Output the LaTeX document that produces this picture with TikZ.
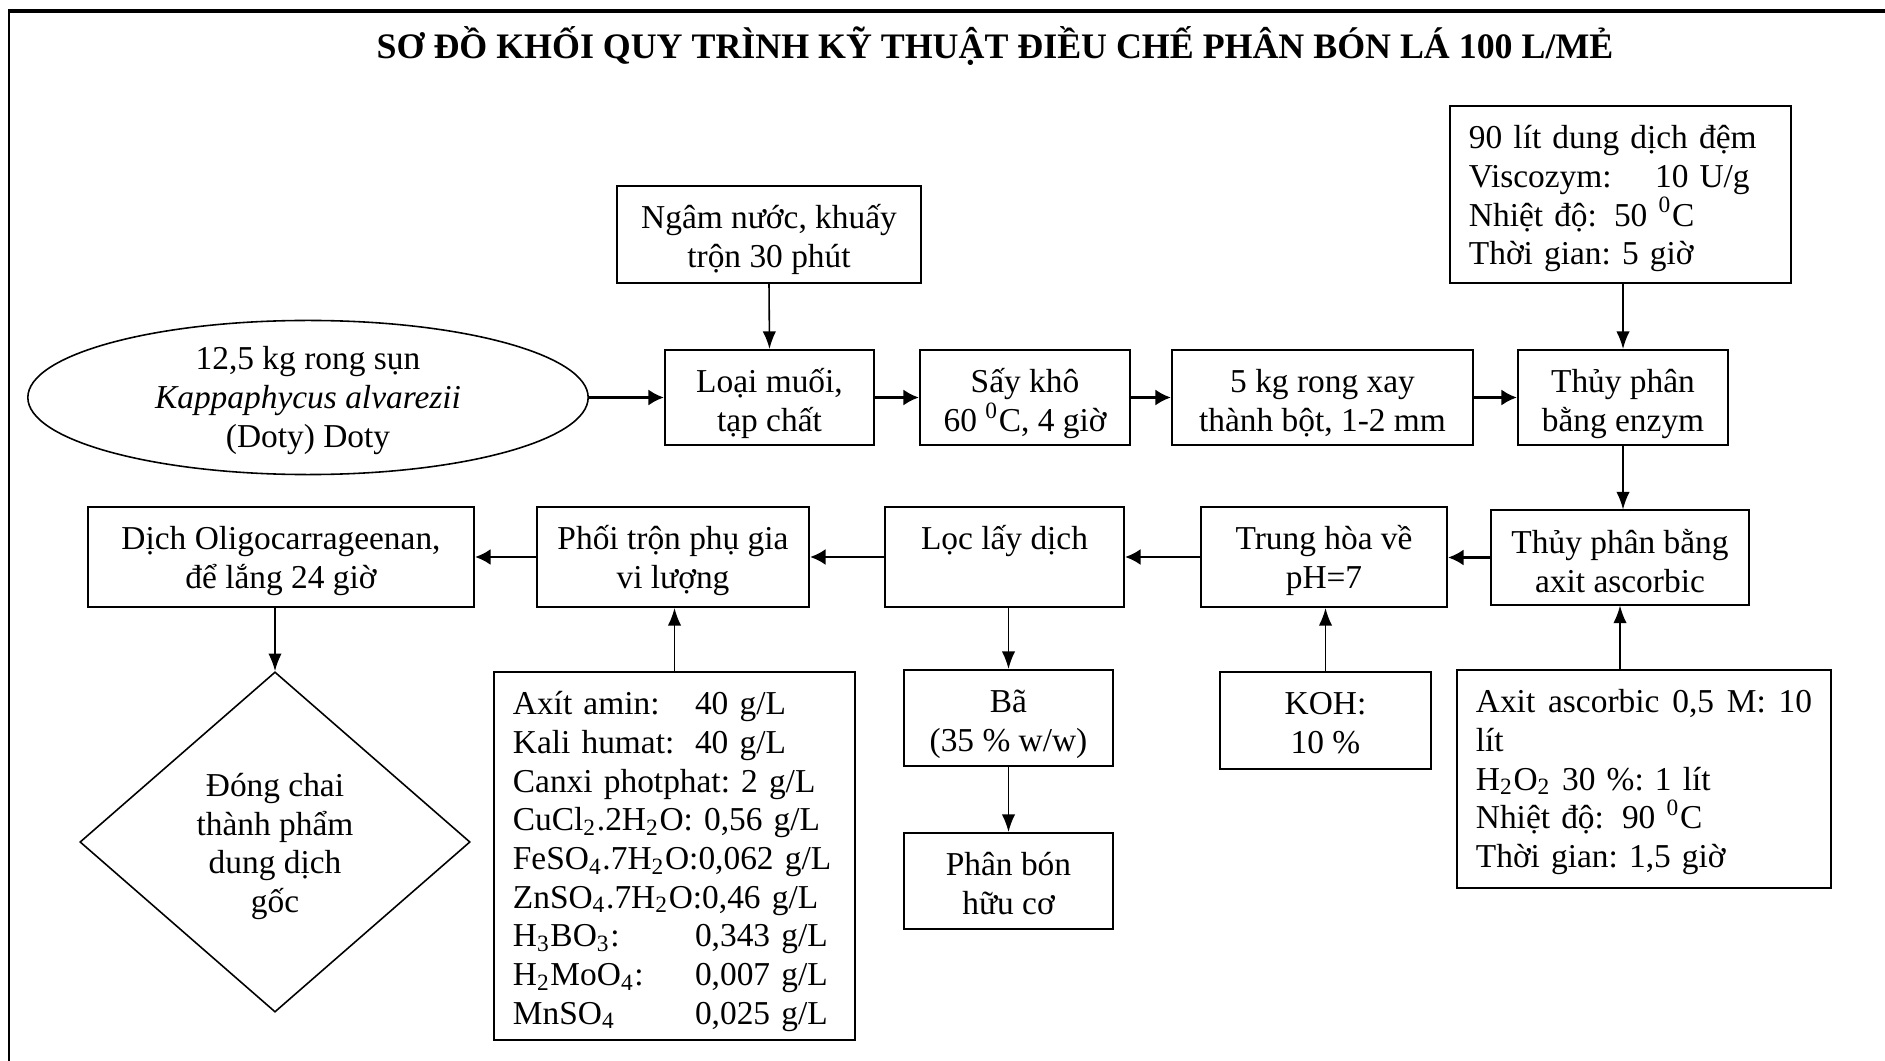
\documentclass[tikz,border=0pt]{standalone}
\usepackage{fontspec}
\setmainfont{Liberation Serif}
\usetikzlibrary{shapes.geometric,arrows.meta}
\newcommand\tS{\rule{0pt}{12.2pt}}
\newcommand\bS[1]{\rule[-#1]{0pt}{#1}}
\begin{document}
\begin{tikzpicture}[x=0.01cm,y=-0.01cm,
  txt/.style={font=\fontsize{9.5}{11}\selectfont\frenchspacing},
  box/.style={draw,line width=0.57pt,txt,align=center,inner sep=0pt},
  lbox/.style={draw,line width=0.57pt,txt,align=left,inner xsep=0.19cm,inner ysep=0pt},
  harrow/.style={line width=0.8pt,-{Latex[length=4.4pt,width=4.6pt]}},
  varrow/.style={line width=0.45pt,-{Latex[length=5pt,width=3.8pt]}}]
\useasboundingbox (0,0) rectangle (1885,1061);
% frame
\draw[line width=1.1pt] (8,11) -- (1885,11);
\draw[line width=0.7pt] (9,11) -- (9,1061);
% title
\node[font=\fontsize{10.2}{12}\selectfont\bfseries] (title) at (995,46)
  {SƠ ĐỒ KHỐI QUY TRÌNH KỸ THUẬT ĐIỀU CHẾ PHÂN BÓN LÁ 100 L/MẺ};
% top row
\node[ellipse,draw,line width=0.45pt,minimum width=5.6cm,minimum height=1.54cm,inner sep=0pt] (ell) at (308,397.5) {};
\node[txt,align=center,anchor=north,inner sep=0pt] (elltxt) at ([yshift=0.712cm]ell.center) {\tS 12,5 kg rong sụn\\\textit{Kappaphycus alvarezii}\\(Doty) Doty};
\node[box,minimum width=3.03cm,minimum height=0.97cm] (ngam) at (769,234.5) {\tS Ngâm nước, khuấy\\trộn 30 phút\bS{4.40pt}};
\node[box,minimum width=2.09cm,minimum height=0.95cm] (loai) at (769.5,397.5) {\tS Loại muối,\\tạp chất\bS{3.83pt}};
\node[box,minimum width=2.10cm,minimum height=0.95cm] (say) at (1025,397.5) {\tS Sấy khô\\60 \textsuperscript{0}C, 4 giờ\bS{3.83pt}};
\node[box,minimum width=3.01cm,minimum height=0.95cm] (xay) at (1322.5,397.5) {\tS 5 kg rong xay\\thành bột, 1-2 mm\bS{3.83pt}};
\node[box,minimum width=2.10cm,minimum height=0.95cm] (tpenz) at (1623,397.5) {\tS Thủy phân\\bằng enzym\bS{3.83pt}};
\node[lbox,text width=3.03cm,minimum height=1.77cm] (dem) at (1620.5,194.5)
  {\tS 90 lít dung dịch đệm\\
   \makebox[1.86cm][l]{Viscozym:}10 U/g\\
   \makebox[1.45cm][l]{Nhiệt độ:}50 \textsuperscript{0}C\\
   Thời gian: 5 giờ\bS{5.16pt}};
% second row
\node[box,minimum width=2.58cm,minimum height=0.94cm] (tpaxit) at (1620,557.5) {\tS Thủy phân bằng\\axit ascorbic\bS{3.55pt}};
\node[box,minimum width=2.46cm,minimum height=1.0cm] (trung) at (1324,557) {\tS Trung hòa về\\pH=7\bS{5.25pt}};
\node[box,minimum width=2.39cm,minimum height=1.0cm] (loc) at (1004.5,557) {\tS Lọc lấy dịch\\\mbox{}\bS{5.25pt}};
\node[box,minimum width=2.72cm,minimum height=1.0cm] (phoi) at (673,557) {\tS Phối trộn phụ gia\\vi lượng\bS{5.25pt}};
\node[box,minimum width=3.86cm,minimum height=1.0cm] (dich) at (281,557) {\tS Dịch Oligocarrageenan,\\để lắng 24 giờ\bS{5.25pt}};
% lower
\node[diamond,draw,line width=0.45pt,minimum width=3.9cm,minimum height=3.4cm,inner sep=0pt] (dia) at (275,842) {};
\node[txt,align=center,anchor=north,inner sep=0pt] (diatxt) at ([yshift=0.89cm]dia.center) {\tS Đóng chai\\thành phẩm\\dung dịch\\gốc};
\node[lbox,text width=3.23cm,minimum height=3.68cm] (add) at (674.5,856)
  {\tS\makebox[1.82cm][l]{Axít amin:}40 g/L\\
   \makebox[1.82cm][l]{Kali humat:}40 g/L\\
   Canxi photphat: 2 g/L\\
   CuCl\textsubscript{2}.2H\textsubscript{2}O: 0,56 g/L\\
   FeSO\textsubscript{4}.7H\textsubscript{2}O:0,062 g/L\\
   ZnSO\textsubscript{4}.7H\textsubscript{2}O:0,46 g/L\\
   \makebox[1.82cm][l]{H\textsubscript{3}BO\textsubscript{3}:}0,343 g/L\\
   \makebox[1.82cm][l]{H\textsubscript{2}MoO\textsubscript{4}:}0,007 g/L\\
   \makebox[1.82cm][l]{MnSO\textsubscript{4}}0,025 g/L\bS{4.51pt}};
\node[box,minimum width=2.09cm,minimum height=0.96cm] (ba) at (1008.5,718) {\tS Bã\\(35 \% w/w)\bS{4.11pt}};
\node[box,minimum width=2.09cm,minimum height=0.96cm] (pb) at (1008.5,881) {\tS Phân bón\\hữu cơ\bS{4.11pt}};
\node[box,minimum width=2.11cm,minimum height=0.97cm] (koh) at (1325.5,720.5) {\tS KOH:\\10 \%\bS{4.40pt}};
\node[lbox,text width=3.36cm,minimum height=2.18cm] (axbox) at (1644,779)
  {\tS\makebox[3.36cm]{Axit\hfill ascorbic\hfill 0,5\hfill M:\hfill 10}\\
   lít\\
   H\textsubscript{2}O\textsubscript{2} 30 \%: 1 lít\\
   \makebox[1.46cm][l]{Nhiệt độ:}90 \textsuperscript{0}C\\
   Thời gian: 1,5 giờ\bS{5.83pt}};
% connectors
\draw[harrow] (ell.east) -- (loai.west);
\draw[varrow] (ngam.south) -- (loai.north);
\draw[harrow] (loai) -- (say);
\draw[harrow] (say) -- (xay);
\draw[harrow] (xay) -- (tpenz);
\draw[varrow] (dem.south -| tpenz.north) -- (tpenz.north);
\draw[varrow] (tpenz.south) -- (tpenz.south |- tpaxit.north);
\draw[varrow] (axbox.north -| tpaxit.south) -- (tpaxit.south);
\draw[harrow] (tpaxit.west) -- (tpaxit.west -| trung.east);
\draw[harrow] (trung) -- (loc);
\draw[harrow] (loc) -- (phoi);
\draw[harrow] (phoi) -- (dich);
\draw[varrow] (koh.north) -- (koh.north |- trung.south);
\draw[varrow] (ba.north |- loc.south) -- (ba.north);
\draw[varrow] (ba.south) -- (pb.north);
\draw[varrow] (add.north) -- (add.north |- phoi.south);
\draw[varrow] (dia.north |- dich.south) -- (dia.north);
\end{tikzpicture}
\end{document}
